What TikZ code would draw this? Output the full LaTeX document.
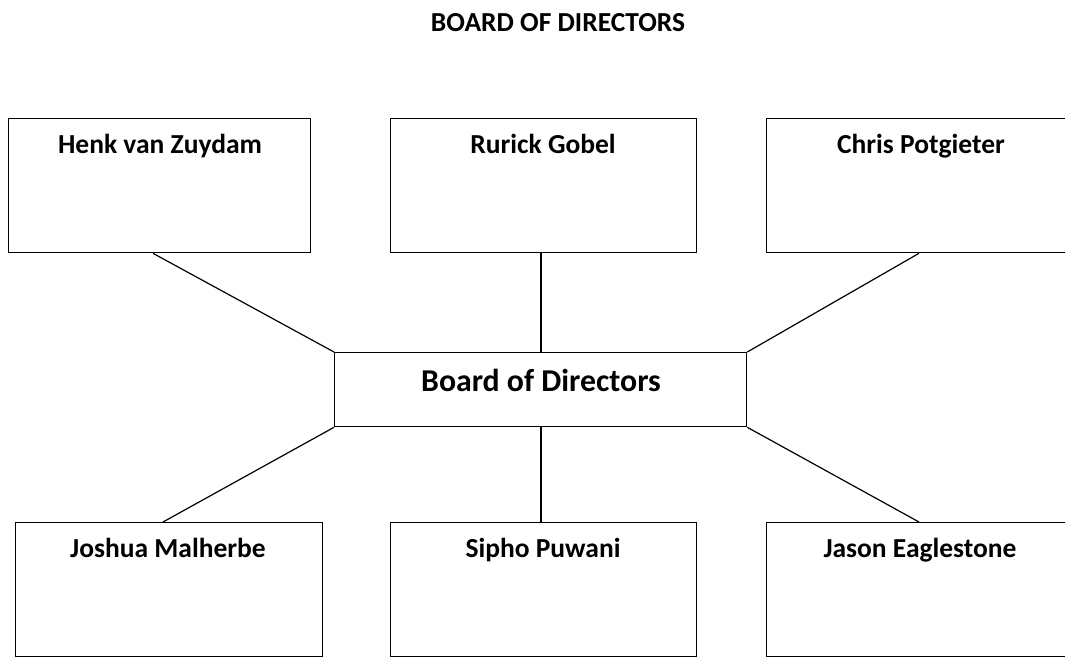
\documentclass[tikz,border=0pt]{standalone}
\usepackage{fontspec}
\setmainfont{Carlito}
\begin{document}
\begin{tikzpicture}[x=1pt,y=-1pt,
  box/.style={draw=black,line width=1.3pt,rectangle,inner sep=0pt,anchor=north west},
  nametext/.style={font=\bfseries\fontsize{27.5}{30}\selectfont,anchor=base,inner sep=0pt},
  conn/.style={draw=black,line width=1.2pt}]
\clip (0,0) rectangle (1065,656);
\useasboundingbox (0,0) rectangle (1065,656);
% title
\node[font=\bfseries\fontsize{27.5}{30}\selectfont,anchor=base,inner sep=0pt] (title) at (558,31) {BOARD OF DIRECTORS};
% top boxes
\node[box,minimum width=302pt,minimum height=134pt] (henk) at (8,118) {};
\node[box,minimum width=306pt,minimum height=134pt] (rurick) at (390,118) {};
\node[box,minimum width=310pt,minimum height=134pt] (chris) at (766,118) {};
% centre
\node[box,minimum width=412pt,minimum height=74pt] (board) at (334,352) {};
% bottom boxes
\node[box,minimum width=307pt,minimum height=134pt] (joshua) at (15,522) {};
\node[box,minimum width=306pt,minimum height=134pt] (sipho) at (390,522) {};
\node[box,minimum width=310pt,minimum height=134pt] (jason) at (766,522) {};
% texts
\node[nametext] (t1) at (160,153) {Henk van Zuydam};
\node[nametext] (t2) at (543,153) {Rurick Gobel};
\node[nametext] (t3) at (921,153) {Chris Potgieter};
\node[nametext,font=\bfseries\fontsize{31.8}{34}\selectfont] (t0) at (541,391) {Board of Directors};
\node[nametext] (t4) at (168,557) {Joshua Malherbe};
\node[nametext] (t5) at (543,557) {Sipho Puwani};
\node[nametext] (t6) at (920,557) {Jason Eaglestone};
% connectors
\coordinate (h1) at ([xshift=145pt]henk.south west);
\coordinate (c1) at ([xshift=153pt]chris.south west);
\coordinate (j1) at ([xshift=148pt]joshua.north west);
\coordinate (g1) at ([xshift=153pt]jason.north west);
\coordinate (r1) at ([xshift=151pt]rurick.south west);
\coordinate (s1) at ([xshift=151pt]sipho.north west);
\draw[conn] (h1) -- (board.north west);
\draw[conn] (r1) -- (r1 |- board.north);
\draw[conn] (c1) -- (board.north east);
\draw[conn] (j1) -- (board.south west);
\draw[conn] (s1) -- (s1 |- board.south);
\draw[conn] (g1) -- (board.south east);
\end{tikzpicture}
\end{document}
